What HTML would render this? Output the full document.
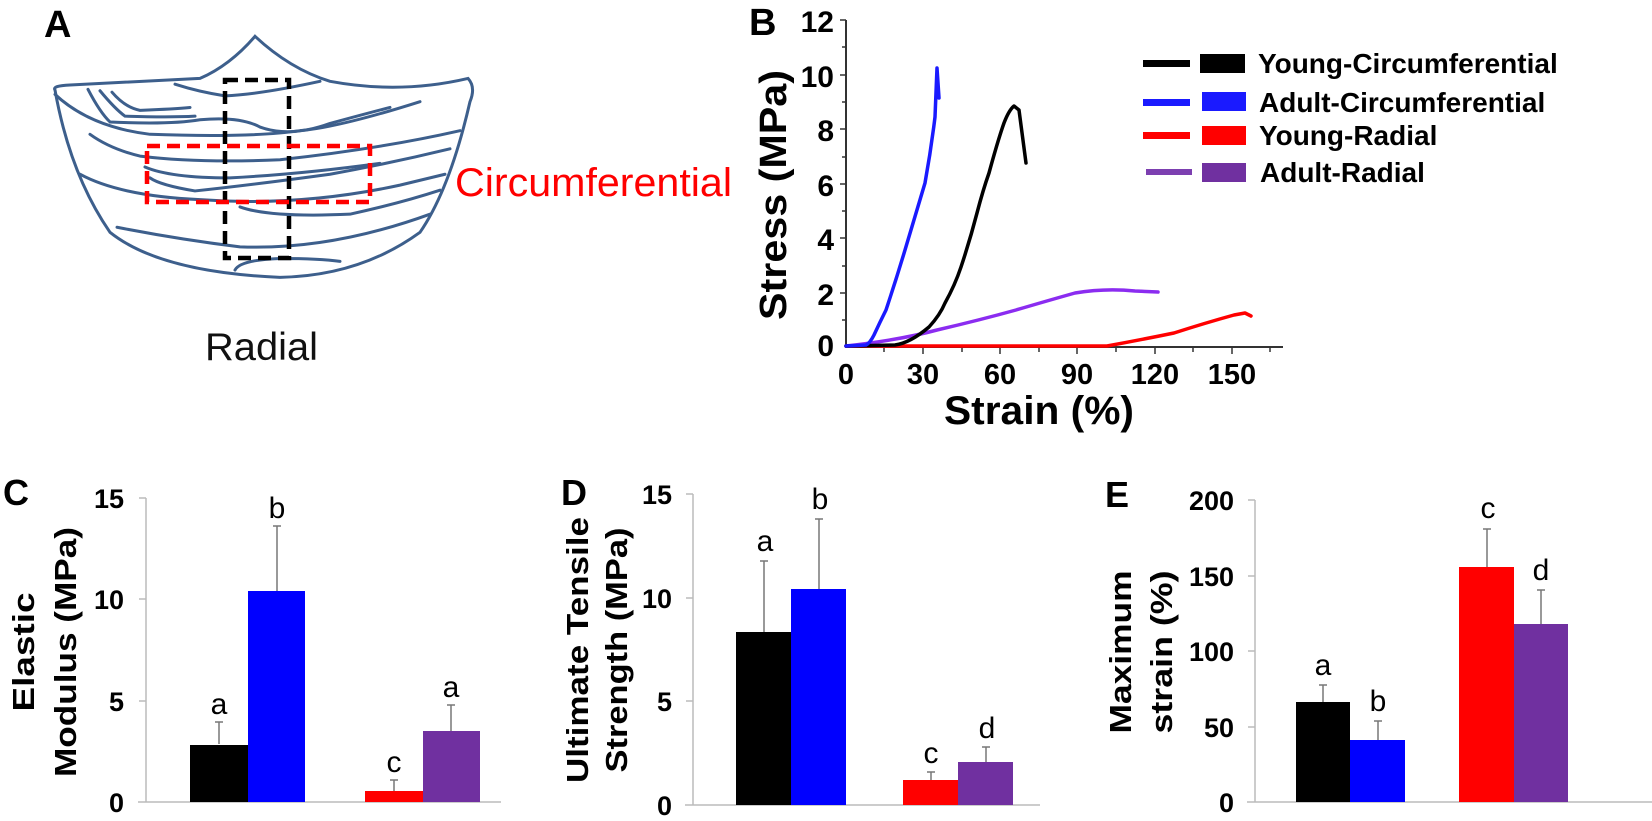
<!DOCTYPE html>
<html><head><meta charset="utf-8"><style>
body{margin:0;background:#fff}
svg{display:block;font-family:"Liberation Sans",Arial,sans-serif}
.b{font-weight:bold}
</style></head><body>
<svg width="1652" height="821" viewBox="0 0 1652 821" xmlns="http://www.w3.org/2000/svg">
<!-- Panel A -->
<text x="44" y="37" class="b" font-size="38">A</text>
<g fill="none" stroke="#3d5f8c" stroke-width="3" stroke-linecap="round" transform="scale(1,0.726)">
<path vector-effect="non-scaling-stroke" d="M55,124 Q52,118 70,117 Q140,112 200,108 Q230,90 255,50 Q290,95 330,112 Q400,130 468,108 Q476,120 470,140 Q450,260 420,320 Q360,380 280,382 Q160,375 110,320 Q70,240 55,124 Z"/>
<path vector-effect="non-scaling-stroke" d="M55,130 Q90,175 150,185 Q250,190 300,180 Q340,175 420,140"/>
<path vector-effect="non-scaling-stroke" d="M88,123 Q100,155 110,168 Q170,172 200,165 Q240,160 260,175 Q290,190 330,170 Q370,155 390,148"/>
<path vector-effect="non-scaling-stroke" d="M100,125 Q115,150 125,160 Q170,162 195,160"/>
<path vector-effect="non-scaling-stroke" d="M112,127 Q125,148 140,152 Q175,150 190,148"/>
<path vector-effect="non-scaling-stroke" d="M175,116 Q200,127 225,132 Q260,130 320,112"/>
<path vector-effect="non-scaling-stroke" d="M90,185 Q110,205 140,215 Q200,225 280,220 Q380,205 460,180"/>
<path vector-effect="non-scaling-stroke" d="M145,230 Q170,245 230,245 Q300,240 380,225"/>
<path vector-effect="non-scaling-stroke" d="M150,245 Q160,255 195,263 Q250,255 330,240 Q390,225 450,205"/>
<path vector-effect="non-scaling-stroke" d="M80,240 Q120,270 200,275 Q300,285 400,255 Q430,245 445,240"/>
<path vector-effect="non-scaling-stroke" d="M240,285 Q270,300 350,295 Q400,280 440,262"/>
<path vector-effect="non-scaling-stroke" d="M117,313 Q180,330 240,340 Q330,345 430,295"/>
<path vector-effect="non-scaling-stroke" d="M235,372 Q240,358 280,356 Q320,356 340,360"/>
</g>
<rect x="225" y="80" width="64" height="178" fill="none" stroke="#000" stroke-width="4.5" stroke-dasharray="13,7"/>
<rect x="147" y="146" width="223" height="56" fill="none" stroke="#f00" stroke-width="4.5" stroke-dasharray="13,7"/>
<text x="455" y="196" font-size="40" fill="#f00" textLength="277" lengthAdjust="spacingAndGlyphs">Circumferential</text>
<text x="205" y="360" font-size="39" fill="#111" textLength="113" lengthAdjust="spacingAndGlyphs">Radial</text>

<!-- Panel B -->
<text x="749" y="35" class="b" font-size="38">B</text>
<g stroke="#333" stroke-width="2" fill="none">
<line x1="846" y1="20" x2="846" y2="348"/>
<line x1="845" y1="347" x2="1283" y2="347"/>
</g>
<g stroke="#333" stroke-width="1.5">
<line x1="840" y1="20" x2="846" y2="20"/><line x1="842" y1="47" x2="846" y2="47"/>
<line x1="840" y1="75" x2="846" y2="75"/><line x1="842" y1="102" x2="846" y2="102"/>
<line x1="840" y1="129" x2="846" y2="129"/><line x1="842" y1="157" x2="846" y2="157"/>
<line x1="840" y1="184" x2="846" y2="184"/><line x1="842" y1="211" x2="846" y2="211"/>
<line x1="840" y1="238" x2="846" y2="238"/><line x1="842" y1="266" x2="846" y2="266"/>
<line x1="840" y1="293" x2="846" y2="293"/><line x1="842" y1="320" x2="846" y2="320"/>
<line x1="884" y1="347" x2="884" y2="352"/><line x1="923" y1="347" x2="923" y2="354"/>
<line x1="962" y1="347" x2="962" y2="352"/><line x1="1000" y1="347" x2="1000" y2="354"/>
<line x1="1039" y1="347" x2="1039" y2="352"/><line x1="1077" y1="347" x2="1077" y2="354"/>
<line x1="1116" y1="347" x2="1116" y2="352"/><line x1="1155" y1="347" x2="1155" y2="354"/>
<line x1="1193" y1="347" x2="1193" y2="352"/><line x1="1232" y1="347" x2="1232" y2="354"/>
<line x1="1270" y1="347" x2="1270" y2="352"/>
</g>
<g class="b" font-size="30" text-anchor="end">
<text x="834" y="32">12</text><text x="834" y="87">10</text><text x="834" y="141">8</text>
<text x="834" y="196">6</text><text x="834" y="250">4</text><text x="834" y="305">2</text><text x="834" y="356">0</text>
</g>
<g class="b" font-size="29" text-anchor="middle">
<text x="846" y="384">0</text><text x="923" y="384">30</text><text x="1000" y="384">60</text>
<text x="1077" y="384">90</text><text x="1155" y="384">120</text><text x="1232" y="384">150</text>
</g>
<text x="1039" y="424" class="b" font-size="40" text-anchor="middle" textLength="190" lengthAdjust="spacingAndGlyphs">Strain (%)</text>
<text transform="translate(786,195) rotate(-90)" class="b" font-size="38" text-anchor="middle" textLength="250" lengthAdjust="spacingAndGlyphs">Stress (MPa)</text>
<g fill="none" stroke-width="3.5" stroke-linecap="round" stroke-linejoin="round">
<path d="M846,346 L1107,346 Q1140,340 1174,333 Q1205,323 1234,315 L1245,313 L1251,316" stroke="#f00"/>
<path d="M846,346 Q900,340 937,330 Q980,320 1016,310 Q1050,300 1075,293 Q1105,288 1135,291 L1158,292" stroke="#8b2cf0"/>
<path d="M846,346 L895,345 Q910,343 929,327 Q940,315 945,303 Q955,285 961,267 Q970,240 977,213 Q983,190 989,173 Q998,140 1004,123 Q1009,110 1014,106 L1019,110 L1026,163" stroke="#000"/>
<path d="M846,346 L866,345 Q870,343 874,335 Q880,322 886,310 Q896,280 905,250 Q915,217 925,183 Q931,150 935,117 Q936,90 937,68 L939,98" stroke="#1a1aff"/>
</g>
<g>
<rect x="1143" y="60" width="47" height="7" fill="#000"/><rect x="1200" y="54" width="45" height="19" fill="#000"/>
<rect x="1143" y="99" width="47" height="7" fill="#1a1aff"/><rect x="1202" y="92" width="44" height="19" fill="#1a1aff"/>
<rect x="1143" y="132" width="47" height="7" fill="#f00"/><rect x="1202" y="126" width="44" height="19" fill="#f00"/>
<rect x="1146" y="169" width="46" height="6" fill="#7c3fb0"/><rect x="1202" y="163" width="44" height="19" fill="#7030a0"/>
</g>
<g class="b" font-size="28">
<text x="1258" y="73">Young-Circumferential</text>
<text x="1259" y="112">Adult-Circumferential</text>
<text x="1259" y="145">Young-Radial</text>
<text x="1260" y="182">Adult-Radial</text>
</g>

<!-- Panel C -->
<text x="3" y="505" class="b" font-size="36">C</text>
<g stroke="#bbb" stroke-width="1.5">
<line x1="146" y1="498" x2="146" y2="802"/><line x1="138" y1="802" x2="501" y2="802"/>
<line x1="139" y1="498" x2="146" y2="498"/><line x1="139" y1="599" x2="146" y2="599"/><line x1="139" y1="701" x2="146" y2="701"/>
</g>
<g class="b" font-size="27" text-anchor="end">
<text x="124" y="508">15</text><text x="124" y="609">10</text><text x="124" y="711">5</text><text x="124" y="812">0</text>
</g>
<text transform="translate(34,652) rotate(-90)" class="b" font-size="31" text-anchor="middle" textLength="119" lengthAdjust="spacingAndGlyphs">Elastic</text>
<text transform="translate(76,652) rotate(-90)" class="b" font-size="31" text-anchor="middle" textLength="250" lengthAdjust="spacingAndGlyphs">Modulus (MPa)</text>
<g stroke="#777" stroke-width="1.5">
<line x1="219" y1="744" x2="219" y2="722"/><line x1="215" y1="722" x2="223" y2="722"/>
<line x1="277" y1="591" x2="277" y2="526"/><line x1="273" y1="526" x2="281" y2="526"/>
<line x1="394" y1="791" x2="394" y2="780"/><line x1="390" y1="780" x2="398" y2="780"/>
<line x1="451" y1="731" x2="451" y2="705"/><line x1="447" y1="705" x2="455" y2="705"/>
</g>
<rect x="190" y="745" width="58" height="57" fill="#000"/>
<rect x="248" y="591" width="57" height="211" fill="#0000ff"/>
<rect x="365" y="791" width="58" height="11" fill="#f00"/>
<rect x="423" y="731" width="57" height="71" fill="#7030a0"/>
<g font-size="30" text-anchor="middle">
<text x="219" y="714">a</text><text x="277" y="518">b</text><text x="394" y="772">c</text><text x="451" y="697">a</text>
</g>

<!-- Panel D -->
<text x="561" y="505" class="b" font-size="36">D</text>
<g stroke="#bbb" stroke-width="1.5">
<line x1="693" y1="494" x2="693" y2="805"/><line x1="685" y1="805" x2="1040" y2="805"/>
<line x1="686" y1="494" x2="693" y2="494"/><line x1="686" y1="598" x2="693" y2="598"/><line x1="686" y1="701" x2="693" y2="701"/>
</g>
<g class="b" font-size="27" text-anchor="end">
<text x="672" y="504">15</text><text x="672" y="608">10</text><text x="672" y="711">5</text><text x="672" y="815">0</text>
</g>
<text transform="translate(588,650) rotate(-90)" class="b" font-size="31" text-anchor="middle" textLength="266" lengthAdjust="spacingAndGlyphs">Ultimate Tensile</text>
<text transform="translate(627,650) rotate(-90)" class="b" font-size="31" text-anchor="middle" textLength="245" lengthAdjust="spacingAndGlyphs">Strength (MPa)</text>
<g stroke="#777" stroke-width="1.5">
<line x1="764" y1="632" x2="764" y2="561"/><line x1="760" y1="561" x2="768" y2="561"/>
<line x1="819" y1="589" x2="819" y2="519"/><line x1="815" y1="519" x2="823" y2="519"/>
<line x1="931" y1="780" x2="931" y2="772"/><line x1="927" y1="772" x2="935" y2="772"/>
<line x1="986" y1="762" x2="986" y2="747"/><line x1="982" y1="747" x2="990" y2="747"/>
</g>
<rect x="736" y="632" width="55" height="173" fill="#000"/>
<rect x="791" y="589" width="55" height="216" fill="#0000ff"/>
<rect x="903" y="780" width="55" height="25" fill="#f00"/>
<rect x="958" y="762" width="55" height="43" fill="#7030a0"/>
<g font-size="30" text-anchor="middle">
<text x="765" y="551">a</text><text x="820" y="509">b</text><text x="931" y="763">c</text><text x="987" y="738">d</text>
</g>

<!-- Panel E -->
<text x="1105" y="507" class="b" font-size="36">E</text>
<g stroke="#bbb" stroke-width="1.5">
<line x1="1255" y1="500" x2="1255" y2="802"/><line x1="1247" y1="802" x2="1652" y2="802"/>
<line x1="1248" y1="500" x2="1255" y2="500"/><line x1="1248" y1="576" x2="1255" y2="576"/>
<line x1="1248" y1="651" x2="1255" y2="651"/><line x1="1248" y1="727" x2="1255" y2="727"/>
</g>
<g class="b" font-size="27" text-anchor="end">
<text x="1234" y="510">200</text><text x="1234" y="586">150</text><text x="1234" y="661">100</text>
<text x="1234" y="737">50</text><text x="1234" y="812">0</text>
</g>
<text transform="translate(1131,652) rotate(-90)" class="b" font-size="31" text-anchor="middle" textLength="163" lengthAdjust="spacingAndGlyphs">Maximum</text>
<text transform="translate(1172,652) rotate(-90)" class="b" font-size="31" text-anchor="middle" textLength="163" lengthAdjust="spacingAndGlyphs">strain (%)</text>
<g stroke="#777" stroke-width="1.5">
<line x1="1323" y1="702" x2="1323" y2="685"/><line x1="1319" y1="685" x2="1327" y2="685"/>
<line x1="1378" y1="740" x2="1378" y2="721"/><line x1="1374" y1="721" x2="1382" y2="721"/>
<line x1="1487" y1="567" x2="1487" y2="529"/><line x1="1483" y1="529" x2="1491" y2="529"/>
<line x1="1541" y1="624" x2="1541" y2="590"/><line x1="1537" y1="590" x2="1545" y2="590"/>
</g>
<rect x="1296" y="702" width="54" height="100" fill="#000"/>
<rect x="1350" y="740" width="55" height="62" fill="#0000ff"/>
<rect x="1459" y="567" width="55" height="235" fill="#f00"/>
<rect x="1514" y="624" width="54" height="178" fill="#7030a0"/>
<g font-size="30" text-anchor="middle">
<text x="1323" y="675">a</text><text x="1378" y="711">b</text><text x="1488" y="518">c</text><text x="1541" y="580">d</text>
</g>
</svg>
</body></html>
